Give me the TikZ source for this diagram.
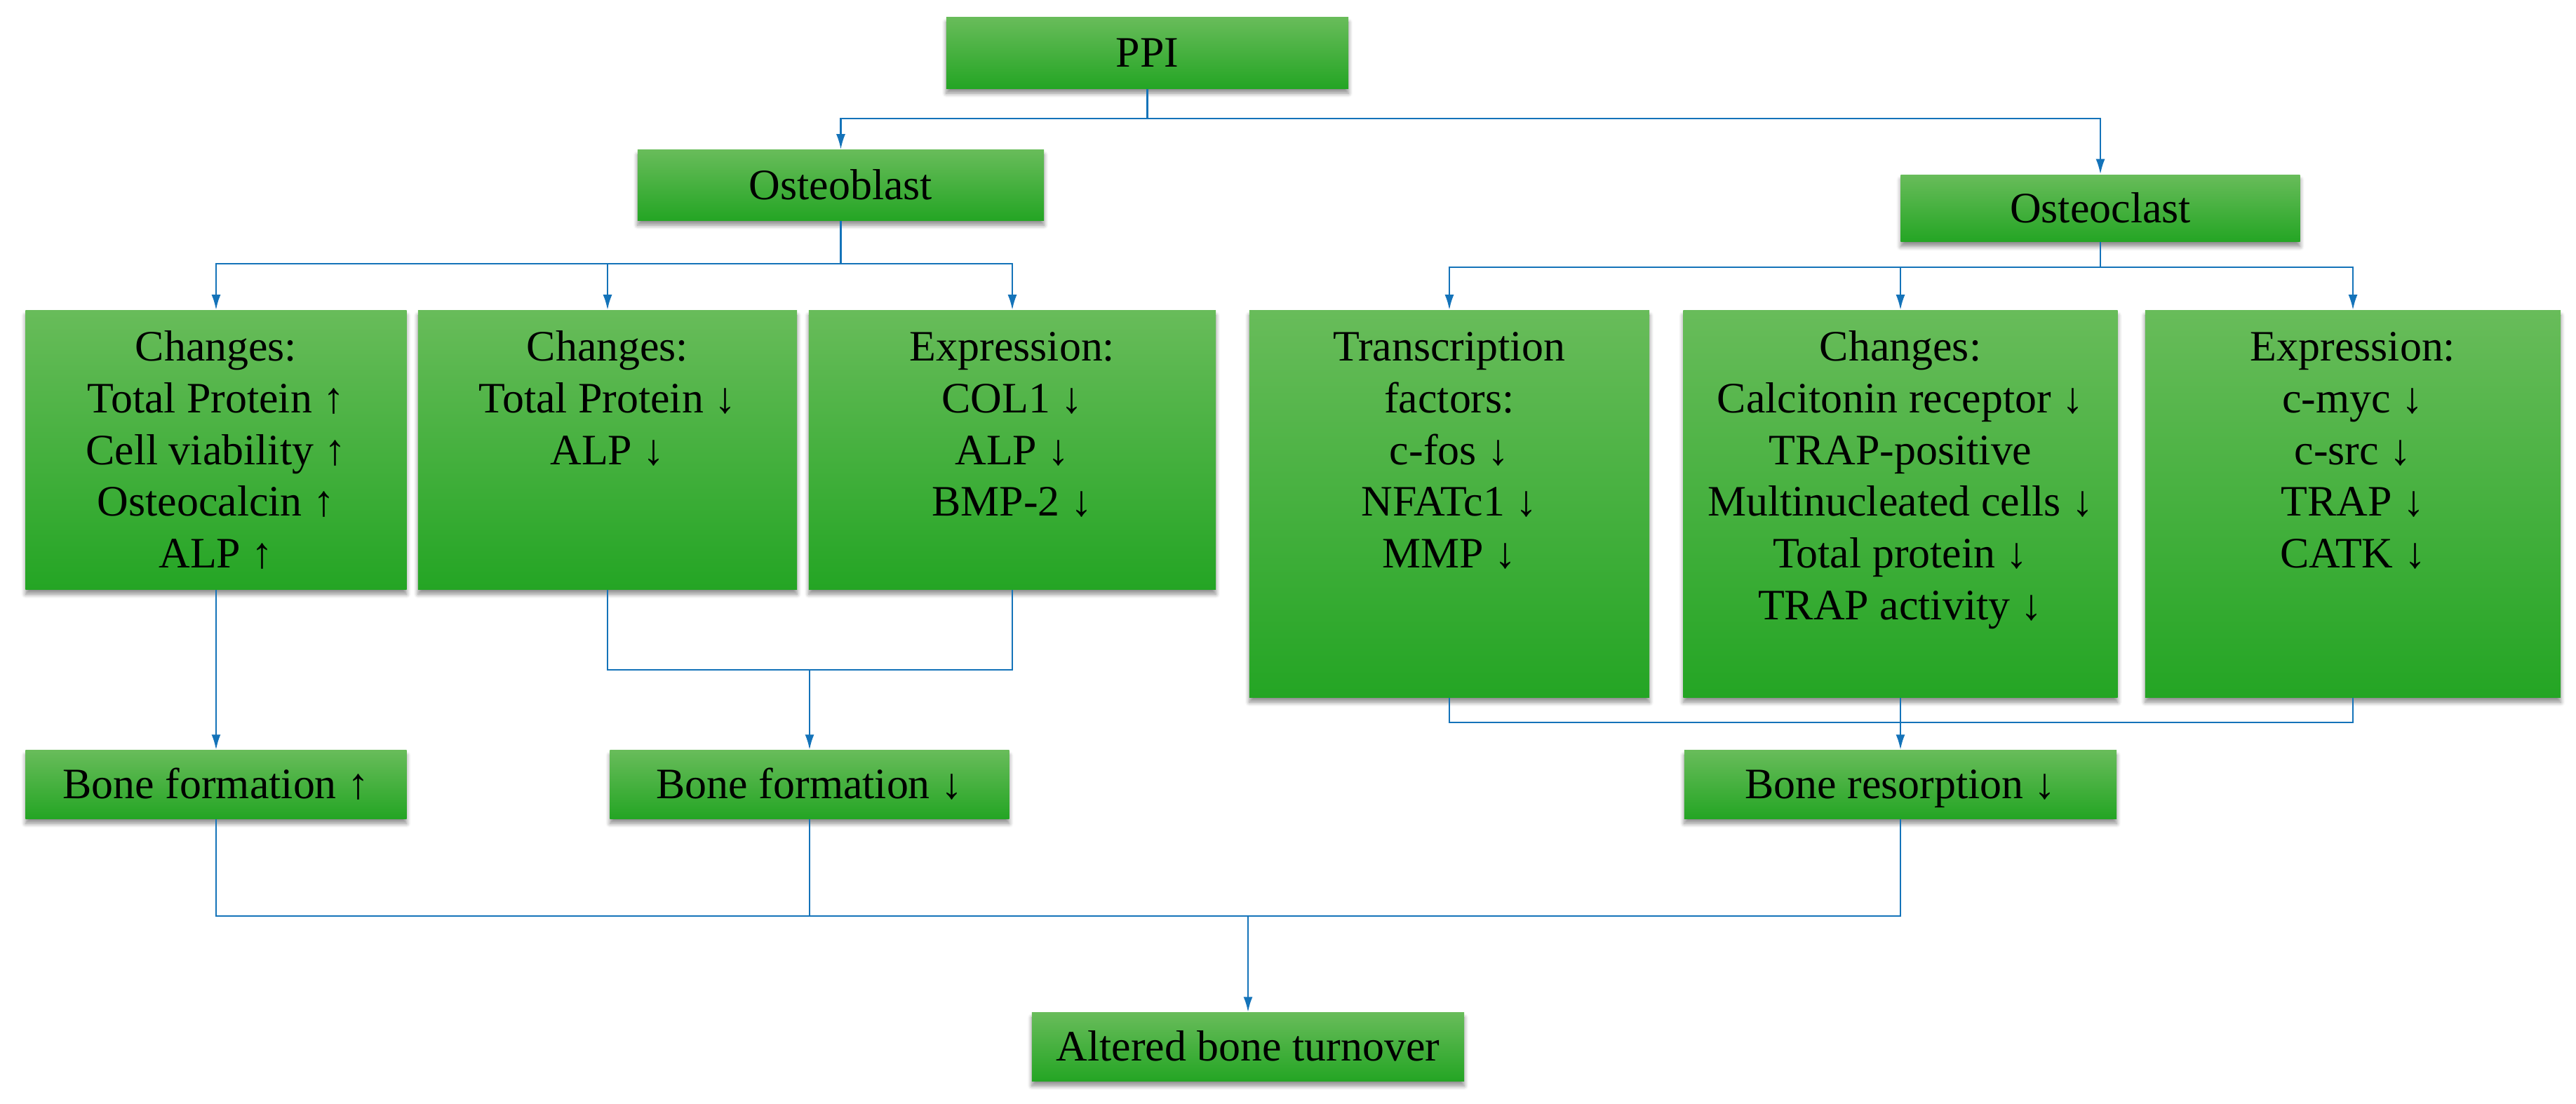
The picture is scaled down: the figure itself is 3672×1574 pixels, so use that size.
\documentclass[tikz,border=0pt]{standalone}
\usepackage{fontspec}
\setmainfont{Liberation Serif}
\usetikzlibrary{arrows.meta,shadows,shadows.blur,calc}
\definecolor{gtop}{RGB}{104,188,90}
\definecolor{gbot}{RGB}{36,165,36}
\definecolor{lnblue}{RGB}{20,115,185}
\begin{document}
\begin{tikzpicture}[x=0.01cm,y=-0.01cm,
  box/.style={rectangle, inner sep=0pt, top color=gtop, bottom color=gbot, draw=none,
    font=\fontsize{17.6}{21}\selectfont, text height=14pt, text depth=2.6pt,
    blur shadow={shadow xshift=0pt, shadow yshift=-0.07cm, shadow blur steps=6,
      shadow blur radius=0.06cm, shadow opacity=45}},
  lbl/.style={font=\fontsize{17.6}{21}\selectfont, align=center, inner sep=0pt, anchor=north},
  conn/.style={draw=lnblue, line width=0.8pt},
  arr/.style={conn, -{Latex[length=0.22cm,width=0.13cm]}}]
\useasboundingbox (0,0) rectangle (3672,1574);

% top level
\node[box, minimum width=5.73cm, minimum height=1.01cm] (ppi) at (1635.5,75.5) {PPI};
\node[box, minimum width=5.79cm, minimum height=1.0cm] (osb) at (1198.5,264) {Osteoblast};
\node[box, minimum width=5.69cm, minimum height=0.95cm] (osc) at (2994,297) {Osteoclast};

% middle row
\node[box, minimum width=5.43cm, minimum height=3.97cm] (b1) at (308,641.5) {};
\node[box, minimum width=5.40cm, minimum height=3.97cm] (b2) at (866,641.5) {};
\node[box, minimum width=5.80cm, minimum height=3.97cm] (b3) at (1443,641.5) {};
\node[box, minimum width=5.70cm, minimum height=5.51cm] (b4) at (2066,718.5) {};
\node[box, minimum width=6.19cm, minimum height=5.51cm] (b5) at (2709,718.5) {};
\node[box, minimum width=5.92cm, minimum height=5.51cm] (b6) at (3354,718.5) {};

\node[lbl] (b1t) at (308,462) {\strut Changes:\\Total Protein ↑\\Cell viability ↑\\Osteocalcin ↑\\ALP ↑};
\node[lbl] (b2t) at (866,462) {\strut Changes:\\Total Protein ↓\\ALP ↓};
\node[lbl] (b3t) at (1443,462) {\strut Expression:\\COL1 ↓\\ALP ↓\\BMP-2 ↓};
\node[lbl] (b4t) at (2066,462) {\strut Transcription\\factors:\\c-fos ↓\\NFATc1 ↓\\MMP ↓};
\node[lbl] (b5t) at (2709,462) {\strut Changes:\\Calcitonin receptor ↓\\TRAP-positive\\Multinucleated cells ↓\\Total protein ↓\\TRAP activity ↓};
\node[lbl] (b6t) at (3354,462) {\strut Expression:\\c-myc ↓\\c-src ↓\\TRAP ↓\\CATK ↓};

% outcome row
\node[box, minimum width=5.43cm, minimum height=0.97cm] (bf1) at (308,1118.5) {Bone formation ↑};
\node[box, minimum width=5.69cm, minimum height=0.97cm] (bf2) at (1154,1118.5) {Bone formation ↓};
\node[box, minimum width=6.16cm, minimum height=0.97cm] (br) at (2709,1118.5) {Bone resorption ↓};
\node[box, minimum width=6.16cm, minimum height=0.97cm] (alt) at (1779,1492.5) {Altered bone turnover};

% bus levels
\coordinate (bus1) at (0,169);
\coordinate (bus2) at (0,376);
\coordinate (bus3) at (0,381);
\coordinate (bus4) at (0,955);
\coordinate (bus5) at (0,1030);
\coordinate (bus6) at (0,1306);

% connectors
\draw[arr] (ppi.south) |- (osb.north |- bus1) -- (osb.north);
\draw[arr] (ppi.south) |- (osc.north |- bus1) -- (osc.north);

\draw[arr] (osb.south) |- (b1.north |- bus2) -- (b1.north);
\draw[arr] (osb.south) |- (b2.north |- bus2) -- (b2.north);
\draw[arr] (osb.south) |- (b3.north |- bus2) -- (b3.north);

\draw[arr] (osc.south) |- (b4.north |- bus3) -- (b4.north);
\draw[arr] (osc.south) |- (b5.north |- bus3) -- (b5.north);
\draw[arr] (osc.south) |- (b6.north |- bus3) -- (b6.north);

\draw[arr] (b1.south) -- (bf1.north);
\draw[conn] (b2.south) |- (b3.south |- bus4) -- (b3.south);
\draw[arr] (bf2.north |- bus4) -- (bf2.north);

\draw[conn] (b4.south) |- (b6.south |- bus5) -- (b6.south);
\draw[conn] (b5.south) -- (b5.south |- bus5);
\draw[arr] (br.north |- bus5) -- (br.north);

\draw[conn] (bf1.south) |- (br.south |- bus6) -- (br.south);
\draw[conn] (bf2.south) -- (bf2.south |- bus6);
\draw[arr] (alt.north |- bus6) -- (alt.north);
\end{tikzpicture}
\end{document}
